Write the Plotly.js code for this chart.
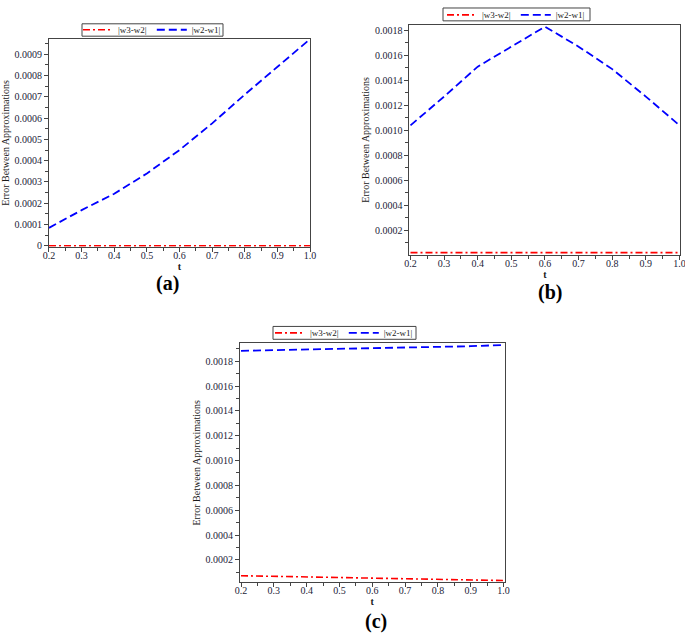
<!DOCTYPE html>
<html>
<head>
<meta charset="utf-8">
<script src="https://cdn.plot.ly/plotly-3.0.1.min.js"></script>
<style>
  html, body { margin: 0; padding: 0; background: #fff; }
  #chart { width: 685px; height: 633px; }
</style>
</head>
<body>
<div id="chart"></div>
<script>
// data
var t = [0.2, 0.3, 0.4, 0.5, 0.6, 0.7, 0.8, 0.9, 1.0];

// panel (a)
var w32a = [0.000001, 0.000001, 0.000001, 0.000001, 0.000001, 0.000001, 0.000001, 0.000001, 0.000001];
var w21a = [0.000085, 0.000168, 0.000245, 0.00034, 0.00045, 0.000575, 0.00071, 0.00084, 0.00097];

// panel (b)
var w32b = [0.000021, 0.000021, 0.000021, 0.000021, 0.000021, 0.000021, 0.000021, 0.000021, 0.000021];
var w21b = [0.00104, 0.00127, 0.00151, 0.00167, 0.00183, 0.00167, 0.00149, 0.00127, 0.00104];

// panel (c)
var w32c = [0.000072, 0.000067, 0.00006, 0.000055, 0.00005, 0.000045, 0.00004, 0.000035, 0.000033];
var w21c = [0.001885, 0.00189, 0.001898, 0.0019, 0.001906, 0.00191, 0.001916, 0.001922, 0.001932];

// tick labels
var xTickVals = [0.2, 0.3, 0.4, 0.5, 0.6, 0.7, 0.8, 0.9, 1.0];
var xTickText = ['0.2', '0.3', '0.4', '0.5', '0.6', '0.7', '0.8', '0.9', '1.0'];
var yTickValsA = [0, 0.0001, 0.0002, 0.0003, 0.0004, 0.0005, 0.0006, 0.0007, 0.0008, 0.0009];
var yTickTextA = ['0', '0.0001', '0.0002', '0.0003', '0.0004', '0.0005', '0.0006', '0.0007', '0.0008', '0.0009'];
var yTickValsBC = [0.0002, 0.0004, 0.0006, 0.0008, 0.0010, 0.0012, 0.0014, 0.0016, 0.0018];
var yTickTextBC = ['0.0002', '0.0004', '0.0006', '0.0008', '0.0010', '0.0012', '0.0014', '0.0016', '0.0018'];

var serif = '"Liberation Serif", "Times New Roman", Times, serif';
var textColor = '#1c1c38';
var W = 685, H = 633;

// line styles
var redLine = { color: 'red', width: 1.6, dash: '7px,3px,2px,3px' };
var blueLine = { color: 'blue', width: 1.8, dash: '8px,4px' };

function traces(xa, ya, leg, red, blue) {
    return [
        { x: t, y: red, xaxis: xa, yaxis: ya, legend: leg, type: 'scatter', mode: 'lines',
          name: '|w3-w2|', line: redLine },
        { x: t, y: blue, xaxis: xa, yaxis: ya, legend: leg, type: 'scatter', mode: 'lines',
          name: '|w2-w1|', line: blueLine }
    ];
}

var data = [].concat(
    traces('x', 'y', 'legend', w32a, w21a),
    traces('x2', 'y2', 'legend2', w32b, w21b),
    traces('x3', 'y3', 'legend3', w32c, w21c)
);

function xAxis(domain, range, anchor) {
    return {
        domain: domain, range: range, anchor: anchor,
        tickmode: 'array', tickvals: xTickVals, ticktext: xTickText,
        ticks: 'outside', ticklen: 4, tickcolor: '#444',
        ticklabelstandoff: -5, ticklabeloverflow: 'allow',
        minor: { ticks: 'outside', ticklen: 3, dtick: 0.05, tick0: 0.2, tickcolor: '#444' },
        showline: true, linecolor: '#444', linewidth: 1, mirror: true,
        showgrid: false, zeroline: false,
        tickfont: { family: serif, size: 10, color: textColor },
        title: { text: '<b>t</b>', standoff: 0, font: { family: serif, size: 10, color: '#1a1a1a' } }
    };
}

function yAxis(domain, range, anchor, vals, text, minorStep) {
    return {
        domain: domain, range: range, anchor: anchor,
        tickmode: 'array', tickvals: vals, ticktext: text,
        ticks: 'outside', ticklen: 4, tickcolor: '#444',
        minor: { ticks: 'outside', ticklen: 3, dtick: minorStep, tick0: 0, tickcolor: '#444' },
        showline: true, linecolor: '#444', linewidth: 1, mirror: true,
        showgrid: false, zeroline: false,
        tickfont: { family: serif, size: 10, color: textColor },
        title: { text: 'Error Between Approximations', standoff: 3,
                 font: { family: serif, size: 10, color: '#1a1a1a' } }
    };
}

// native legend, transparent, with a thin frame drawn as a shape
function legendBox(cx, cy) {
    return {
        x: cx / W, y: 1 - cy / H, xanchor: 'center', yanchor: 'middle',
        orientation: 'h', bgcolor: 'rgba(0,0,0,0)', borderwidth: 0,
        font: { family: serif, size: 9, color: '#1a1a1a' },
        itemwidth: 30, tracegroupgap: 0
    };
}

function frame(x0, y0, x1, y1) {
    return {
        type: 'rect', xref: 'paper', yref: 'paper',
        x0: x0 / W, x1: x1 / W, y0: 1 - y1 / H, y1: 1 - y0 / H,
        line: { color: '#444', width: 1 }, fillcolor: 'rgba(0,0,0,0)'
    };
}

function label(txt, cx, cy) {
    return {
        text: '<b>' + txt + '</b>', x: cx / W, y: 1 - cy / H, xref: 'paper', yref: 'paper',
        xanchor: 'center', yanchor: 'middle', showarrow: false,
        font: { family: serif, size: 20, color: '#000' }
    };
}

var layout = {
    width: W,
    height: H,
    margin: { l: 0, r: 0, t: 0, b: 0 },
    paper_bgcolor: '#fff',
    plot_bgcolor: '#fff',
    showlegend: true,
    xaxis: xAxis([0.0715, 0.4526], [0.2, 1.0], 'y'),
    yaxis: yAxis([0.6169, 0.949], [-0.000004, 0.000971], 'x', yTickValsA, yTickTextA, 0.00005),
    xaxis2: xAxis([0.5978, 0.9934], [0.197, 1.003], 'y2'),
    yaxis2: yAxis([0.6039, 0.9716], [0.000002, 0.001845], 'x2', yTickValsBC, yTickTextBC, 0.0001),
    xaxis3: xAxis([0.3504, 0.7365], [0.197, 1.003], 'y3'),
    yaxis3: yAxis([0.081, 0.4629], [0.000019, 0.001946], 'x3', yTickValsBC, yTickTextBC, 0.0001),
    legend: legendBox(152, 23),
    legend2: legendBox(516, 8),
    legend3: legendBox(344, 329.5),
    shapes: [
        frame(82, 17, 223, 29.5),
        frame(443, 1, 590, 14),
        frame(273, 323, 416, 336)
    ],
    annotations: [
        label('(a)', 167, 280),
        label('(b)', 550, 289),
        label('(c)', 376, 621)
    ]
};

var config = { displayModeBar: false, responsive: false };

Plotly.newPlot('chart', data, layout, config);
</script>
</body>
</html>
